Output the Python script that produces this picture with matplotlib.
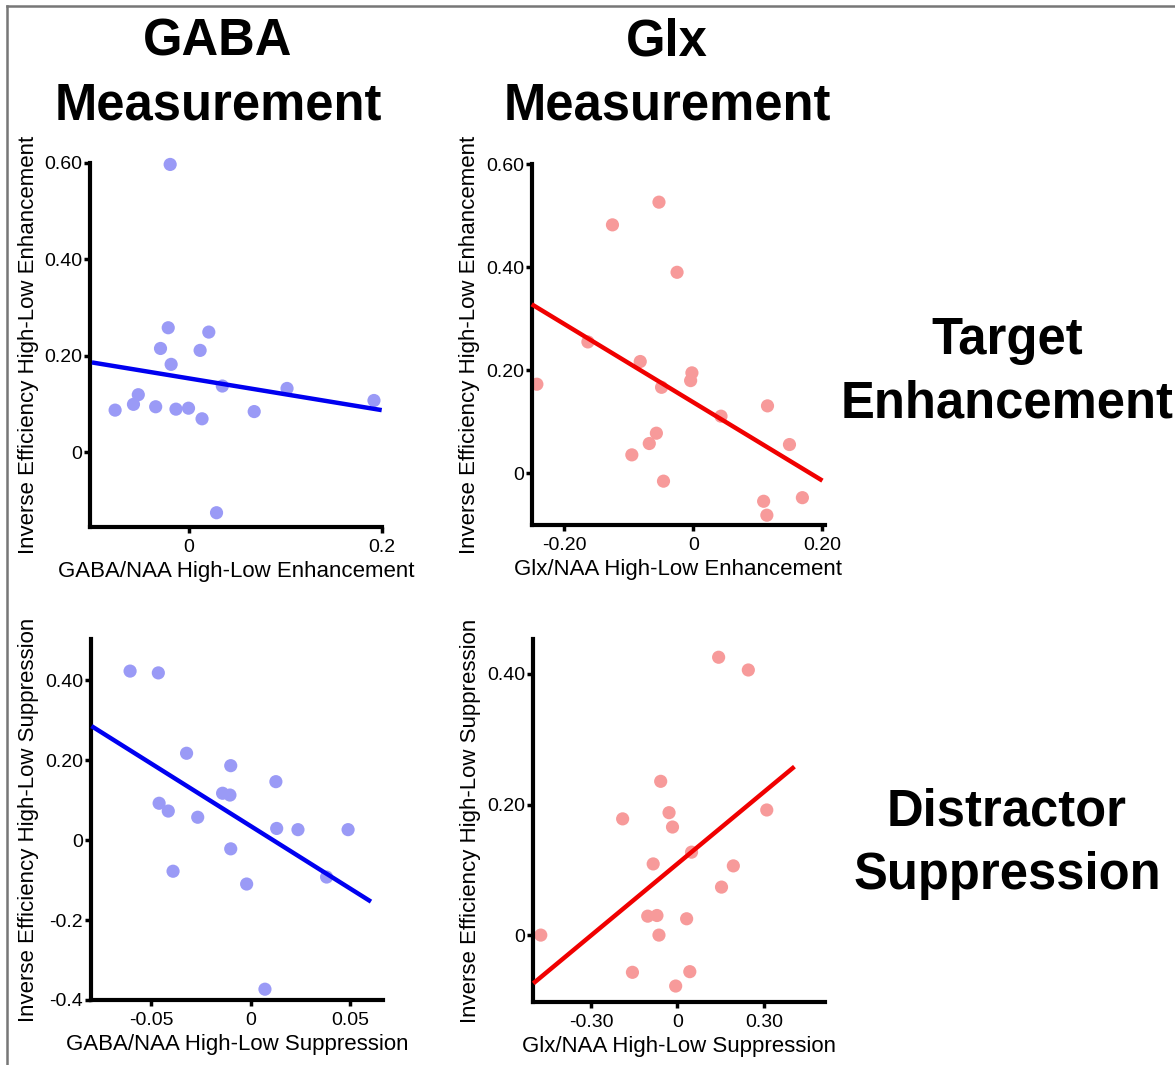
import matplotlib
matplotlib.use("Agg")
import matplotlib.pyplot as plt
from matplotlib.lines import Line2D

plt.rcParams['font.family'] = ['Liberation Sans', 'DejaVu Sans']

# --- data ---
# top-left: GABA / target enhancement
gaba_enh_x = [-0.019, -0.021, 0.021, -0.029, 0.012, -0.018, 0.035, 0.102, 0.192,
              -0.052, -0.057, -0.076, -0.034, -0.013, 0.000, 0.014, 0.068, 0.029]
gaba_enh_y = [0.597, 0.258, 0.249, 0.215, 0.211, 0.182, 0.137, 0.132, 0.107,
              0.119, 0.099, 0.087, 0.094, 0.089, 0.091, 0.069, 0.084, -0.126]
gaba_enh_fit_x = [-0.10, 0.20]
gaba_enh_fit_y = [0.186, 0.087]

# top-right: Glx / target enhancement
glx_enh_x = [-0.053, -0.125, -0.025, -0.163, -0.082, -0.002, -0.004, -0.242, -0.049,
             0.043, 0.115, 0.149, -0.057, -0.068, -0.095, -0.046, 0.109, 0.169, 0.114]
glx_enh_y = [0.526, 0.482, 0.390, 0.255, 0.217, 0.195, 0.180, 0.173, 0.167,
             0.111, 0.131, 0.056, 0.078, 0.058, 0.036, -0.015, -0.054, -0.047, -0.081]
glx_enh_fit_x = [-0.25, 0.20]
glx_enh_fit_y = [0.328, -0.014]

# bottom-left: GABA / distractor suppression
gaba_sup_x = [-0.0606, -0.0464, -0.0322, -0.010, 0.0127, -0.0141, -0.0104, -0.046, -0.0414,
              -0.0266, 0.0131, 0.0238, 0.049, -0.010, -0.039, -0.002, 0.0382, 0.0072]
gaba_sup_y = [0.4225, 0.418, 0.217, 0.186, 0.146, 0.117, 0.1125, 0.092, 0.0725,
              0.057, 0.029, 0.026, 0.026, -0.022, -0.078, -0.110, -0.0925, -0.373]
gaba_sup_fit_x = [-0.080, 0.0605]
gaba_sup_fit_y = [0.285, -0.154]

# bottom-right: Glx / distractor suppression
glx_sup_x = [0.143, 0.246, -0.058, -0.029, 0.310, -0.190, -0.017, 0.049, -0.084, 0.194,
             0.153, -0.103, -0.071, 0.032, -0.474, -0.064, -0.156, 0.043, -0.006]
glx_sup_y = [0.4255, 0.406, 0.2355, 0.1875, 0.1916, 0.178, 0.1655, 0.127, 0.109, 0.106,
             0.0735, 0.029, 0.030, 0.025, 0.000, 0.000, -0.057, -0.056, -0.078]
glx_sup_fit_x = [-0.50, 0.406]
glx_sup_fit_y = [-0.074, 0.258]

col_titles = ["GABA\nMeasurement", "Glx\nMeasurement"]
row_titles = ["Target\nEnhancement", "Distractor\nSuppression"]

W, H = 1175, 1065
fig = plt.figure(figsize=(W / 100, H / 100), dpi=100)

blue_pt, blue_line = "#9a9af6", "#0000f0"
red_pt, red_line = "#f79a9a", "#f00000"

panels = [
    dict(box=(90, 163, 381.7, 526.7), x=gaba_enh_x, y=gaba_enh_y,
         fx=gaba_enh_fit_x, fy=gaba_enh_fit_y, pc=blue_pt, lc=blue_line,
         xlim=(-0.102, 0.2), ylim=(-0.155, 0.60),
         xt=[0, 0.2], xtl=["0", "0.2"],
         yt=[0, 0.2, 0.4, 0.6], ytl=["0", "0.20", "0.40", "0.60"],
         xl="GABA/NAA High-Low Enhancement",
         yl="Inverse Efficiency High-Low Enhancement"),
    dict(box=(531.7, 164, 825, 525), x=glx_enh_x, y=glx_enh_y,
         fx=glx_enh_fit_x, fy=glx_enh_fit_y, pc=red_pt, lc=red_line,
         xlim=(-0.25, 0.204), ylim=(-0.10, 0.60),
         xt=[-0.2, 0, 0.2], xtl=["-0.20", "0", "0.20"],
         yt=[0, 0.2, 0.4, 0.6], ytl=["0", "0.20", "0.40", "0.60"],
         xl="Glx/NAA High-Low Enhancement",
         yl="Inverse Efficiency High-Low Enhancement"),
    dict(box=(90.7, 639.3, 383.3, 1000), x=gaba_sup_x, y=gaba_sup_y,
         fx=gaba_sup_fit_x, fy=gaba_sup_fit_y, pc=blue_pt, lc=blue_line,
         xlim=(-0.0804, 0.0667), ylim=(-0.40, 0.502),
         xt=[-0.05, 0, 0.05], xtl=["-0.05", "0", "0.05"],
         yt=[-0.4, -0.2, 0, 0.2, 0.4], ytl=["-0.4", "-0.2", "0", "0.20", "0.40"],
         xl="GABA/NAA High-Low Suppression",
         yl="Inverse Efficiency High-Low Suppression"),
    dict(box=(532.7, 639.3, 825, 1001.7), x=glx_sup_x, y=glx_sup_y,
         fx=glx_sup_fit_x, fy=glx_sup_fit_y, pc=red_pt, lc=red_line,
         xlim=(-0.502, 0.512), ylim=(-0.102, 0.453),
         xt=[-0.3, 0, 0.3], xtl=["-0.30", "0", "0.30"],
         yt=[0, 0.2, 0.4], ytl=["0", "0.20", "0.40"],
         xl="Glx/NAA High-Low Suppression",
         yl="Inverse Efficiency High-Low Suppression"),
]

for p in panels:
    x0, y0, x1, y1 = p["box"]
    ax = fig.add_axes([x0 / W, 1 - y1 / H, (x1 - x0) / W, (y1 - y0) / H])
    ax.scatter(p["x"], p["y"], s=90, color=p["pc"], edgecolors="none", zorder=2, clip_on=False)
    ax.plot(p["fx"], p["fy"], color=p["lc"], lw=3.2, solid_capstyle="butt", zorder=3, clip_on=False)
    ax.set_xlim(*p["xlim"])
    ax.set_ylim(*p["ylim"])
    ax.set_xticks(p["xt"], p["xtl"])
    ax.set_yticks(p["yt"], p["ytl"])
    for s in ["top", "right"]:
        ax.spines[s].set_visible(False)
    for s in ["left", "bottom"]:
        ax.spines[s].set_linewidth(3.0)
    ax.tick_params(width=2.5, length=4, labelsize=14)
    ax.tick_params(axis="x", pad=4.5)
    ax.tick_params(axis="y", pad=1.5)
    ax.set_xlabel(p["xl"], fontsize=16, labelpad=4)
    ax.set_ylabel(p["yl"], fontsize=16, labelpad=4)

# column and row headings
for i, t in enumerate(col_titles):
    cx = [218, 667][i]
    fig.text(cx / W, 1 - 74 / H, t, ha="center", va="center", fontsize=36.5,
             fontweight="bold", linespacing=1.38)
for i, t in enumerate(row_titles):
    cy = [372, 844][i]
    fig.text(1007 / W, 1 - cy / H, t, ha="center", va="center", fontsize=36.5,
             fontweight="bold", linespacing=1.38)

# gray frame (top and left edges only)
fig.add_artist(Line2D([7 / W, 1], [1 - 6 / H, 1 - 6 / H], transform=fig.transFigure,
                      color="#777777", lw=1.8))
fig.add_artist(Line2D([7 / W, 7 / W], [0, 1 - 6 / H], transform=fig.transFigure,
                      color="#777777", lw=1.8))

fig.savefig("out.png", dpi=100)
